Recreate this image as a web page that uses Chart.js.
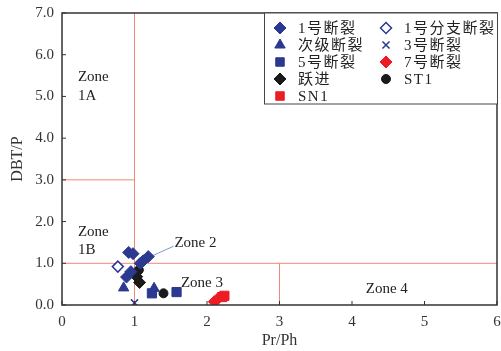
<!DOCTYPE html>
<html>
<head>
<meta charset="utf-8">
<script src="https://cdn.jsdelivr.net/npm/chart.js@4.4.0/dist/chart.umd.min.js"></script>
<style>
  html, body { margin: 0; padding: 0; background: #fff; overflow: hidden; }
  canvas { display: block; }
</style>
</head>
<body>
<canvas id="chart" width="501" height="351"></canvas>
<script>
// ---- data (Pr/Ph, DBT/P) ----
const xTicks = [0, 1, 2, 3, 4, 5, 6];
const yTicks = [0, 1, 2, 3, 4, 5, 6, 7];

const fault1X = [0.92, 0.98, 1.19, 1.08, 0.89, 0.95, 1.12];
const fault1Y = [1.26, 1.23, 1.16, 1.00, 0.67, 0.80, 1.06];
const branchX = [0.77];
const branchY = [0.92];
const secondaryX = [0.85, 1.27];
const secondaryY = [0.41, 0.40];
const fault3X = [1.0];
const fault3Y = [0.05];
const fault5X = [1.24, 1.58];
const fault5Y = [0.28, 0.31];
const fault7X = [2.10, 2.15];
const fault7Y = [0.08, 0.15];
const yuejinX = [1.03, 1.07];
const yuejinY = [0.68, 0.54];
const st1X = [1.06, 1.40];
const st1Y = [0.84, 0.28];
const sn1X = [2.21, 2.24];
const sn1Y = [0.19, 0.22];

// zone boundaries
const boundaryA = [[1, 0], [1, 7]];
const boundaryB = [[0, 3], [1, 3]];
const boundaryC = [[0, 1], [6, 1]];
const boundaryD = [[3, 0], [3, 1]];
const leader = [[1.22, 1.16], [1.54, 1.41]];

const zoneLabels = [
  { text: 'Zone', x: 0.22, y: 5.46 },
  { text: '1A', x: 0.22, y: 5.0 },
  { text: 'Zone', x: 0.22, y: 1.75 },
  { text: '1B', x: 0.22, y: 1.32 },
  { text: 'Zone 2', x: 1.55, y: 1.49 },
  { text: 'Zone 3', x: 1.64, y: 0.53 },
  { text: 'Zone 4', x: 4.19, y: 0.38 },
];

const BLUE = '#2b3990';
const RED = '#ed1c24';
const BLACK = '#1a1a1a';
const SERIF = '"Liberation Serif", "Noto Sans CJK SC", serif';

const pts = (xs, ys) => xs.map((x, i) => ({ x: x, y: ys[i] }));
const seg = (p) => p.map(([x, y]) => ({ x: x, y: y }));

function markerSet(label, xs, ys, style, radius, fill, border, bw) {
  return {
    label: label,
    data: pts(xs, ys),
    pointStyle: style,
    pointRadius: radius,
    pointBackgroundColor: fill,
    pointBorderColor: border,
    pointBorderWidth: bw,
    showLine: false,
    order: 0,
  };
}

function lineSet(p, color) {
  return {
    label: '',
    data: seg(p),
    showLine: true,
    borderColor: color,
    borderWidth: 1,
    pointRadius: 0,
    order: 10,
  };
}

const series = [
  markerSet('1号断裂', fault1X, fault1Y, 'rectRot', 6, BLUE, BLUE, 1),
  markerSet('1号分支断裂', branchX, branchY, 'rectRot', 5.5, '#fff', BLUE, 1.5),
  markerSet('次级断裂', secondaryX, secondaryY, 'triangle', 6, BLUE, BLUE, 1),
  markerSet('3号断裂', fault3X, fault3Y, 'crossRot', 5, BLUE, BLUE, 1.5),
  markerSet('5号断裂', fault5X, fault5Y, 'rect', 6.5, BLUE, BLUE, 1),
  markerSet('7号断裂', fault7X, fault7Y, 'rectRot', 6, RED, RED, 1),
  markerSet('跃进', yuejinX, yuejinY, 'rectRot', 6, BLACK, BLACK, 1),
  markerSet('ST1', st1X, st1Y, 'circle', 4.5, BLACK, BLACK, 1),
  markerSet('SN1', sn1X, sn1Y, 'rect', 6.5, RED, RED, 1),
];

const lines = [
  lineSet(boundaryA, '#f08878'),
  lineSet(boundaryB, '#f08878'),
  lineSet(boundaryC, '#f08878'),
  lineSet(boundaryD, '#f08878'),
  lineSet(leader, '#7b96d8'),
];

// frame, inward ticks, zone labels and the boxed legend
const decor = {
  id: 'decor',
  afterDatasetsDraw(chart) {
    const { ctx, chartArea: a, scales } = chart;
    const sx = scales.x, sy = scales.y;
    ctx.save();
    ctx.strokeStyle = '#333';
    ctx.lineWidth = 1.5;
    ctx.strokeRect(a.left, a.top, a.right - a.left, a.bottom - a.top);
    ctx.lineWidth = 1;
    ctx.beginPath();
    xTicks.forEach(v => {
      const px = sx.getPixelForValue(v);
      ctx.moveTo(px, a.bottom);
      ctx.lineTo(px, a.bottom - 4);
    });
    yTicks.forEach(v => {
      const py = sy.getPixelForValue(v);
      ctx.moveTo(a.left, py);
      ctx.lineTo(a.left + 4, py);
    });
    ctx.stroke();

    ctx.fillStyle = '#222';
    ctx.font = '15px ' + SERIF;
    ctx.textBaseline = 'middle';
    ctx.textAlign = 'left';
    zoneLabels.forEach(z => {
      ctx.fillText(z.text, sx.getPixelForValue(z.x), sy.getPixelForValue(z.y));
    });

    // legend box
    const boxL = 264, boxB = 104;
    ctx.fillStyle = '#fff';
    ctx.fillRect(boxL, a.top, a.right - boxL, boxB - a.top);
    ctx.strokeStyle = '#444';
    ctx.lineWidth = 1;
    ctx.strokeRect(boxL + 0.5, a.top, a.right - boxL, boxB - a.top);
    const cols = [280, 386];
    const rows = [28, 45, 62, 79, 96];
    series.forEach((ds, i) => {
      const cx = cols[i % 2], cy = rows[Math.floor(i / 2)];
      ctx.fillStyle = ds.pointBackgroundColor;
      ctx.strokeStyle = ds.pointBorderColor;
      ctx.lineWidth = ds.pointBorderWidth;
      Chart.helpers.drawPoint(ctx, {
        pointStyle: ds.pointStyle,
        radius: Math.min(ds.pointRadius, 6),
        rotation: 0,
        borderWidth: ds.pointBorderWidth,
      }, cx, cy);
      ctx.fillStyle = '#222';
      ctx.font = '15px ' + SERIF;
      ctx.letterSpacing = '1.5px';
      ctx.fillText(ds.label, cx + 18, cy + 1);
      ctx.letterSpacing = '0px';
    });
    ctx.restore();
  },
};

const tickFont = { family: SERIF, size: 15 };

new Chart(document.getElementById('chart'), {
  type: 'scatter',
  data: { datasets: series.concat(lines) },
  options: {
    responsive: false,
    animation: false,
    layout: { autoPadding: false, padding: { top: 13, right: 4, left: 0, bottom: 0 } },
    plugins: {
      legend: { display: false },
      tooltip: { enabled: false },
    },
    scales: {
      x: {
        type: 'linear',
        min: 0,
        max: 6,
        afterBuildTicks: s => { s.ticks = xTicks.map(v => ({ value: v })); },
        afterFit: s => { s.height = 46; s.paddingLeft = 0; s.paddingRight = 0; },
        grid: { display: true, drawOnChartArea: false, drawTicks: true,
                tickLength: 8, tickColor: 'rgba(0,0,0,0)' },
        border: { display: false },
        ticks: { font: tickFont, color: '#333', padding: 0, maxRotation: 0,
                 callback: v => String(v) },
        title: { display: true, text: 'Pr/Ph', font: { family: SERIF, size: 16 }, color: '#333', padding: 1 },
      },
      y: {
        type: 'linear',
        min: 0,
        max: 7,
        afterBuildTicks: s => { s.ticks = yTicks.map(v => ({ value: v })); },
        afterFit: s => { s.width = 62; s.paddingTop = 0; s.paddingBottom = 0; },
        grid: { display: true, drawOnChartArea: false, drawTicks: true,
                tickLength: 8, tickColor: 'rgba(0,0,0,0)' },
        border: { display: false },
        ticks: { font: tickFont, color: '#333', padding: 0,
                 callback: v => Number(v).toFixed(1) },
        title: { display: true, text: 'DBT/P', font: { family: SERIF, size: 16 }, color: '#333', padding: 8 },
      },
    },
  },
  plugins: [decor],
});
</script>
</body>
</html>
